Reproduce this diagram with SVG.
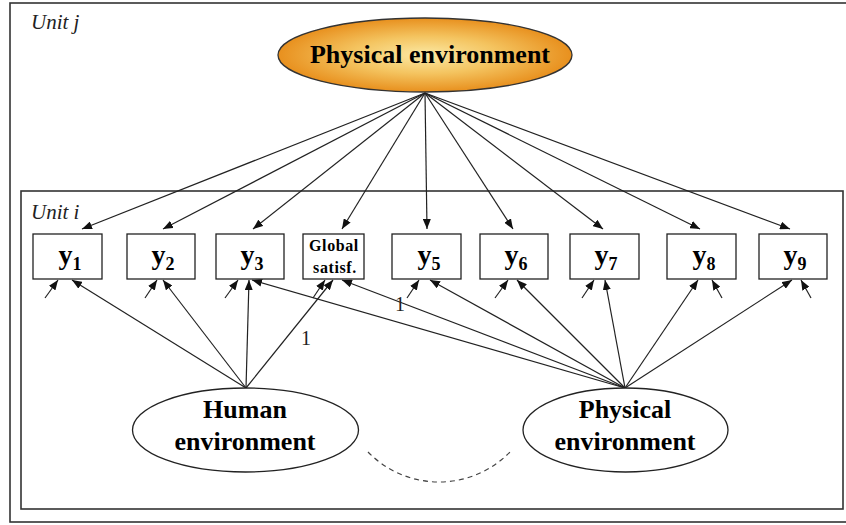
<svg xmlns="http://www.w3.org/2000/svg" width="846" height="525" viewBox="0 0 846 525">
<defs>
<radialGradient id="og" cx="50%" cy="50%" r="50%">
<stop offset="0" stop-color="#fbe9a4"/>
<stop offset="0.5" stop-color="#f4c460"/>
<stop offset="1" stop-color="#e8901e"/>
</radialGradient>
<marker id="ah" viewBox="0 0 10 8" refX="10" refY="4" markerWidth="10" markerHeight="8" markerUnits="userSpaceOnUse" orient="auto">
<path d="M0,0 L10,4 L0,8 z" fill="#111"/>
</marker>
</defs>
<style>
.frame{fill:none;stroke:#333;stroke-width:1.6}
.box{fill:#fff;stroke:#222;stroke-width:1.3}
.ell{fill:#fff;stroke:#222;stroke-width:1.3}
.c line{stroke:#222;stroke-width:1.2;marker-end:url(#ah)}
.lbl{font-family:"Liberation Serif","Times New Roman",serif;font-weight:bold;fill:#000;text-anchor:middle}
.unit{font-family:"Liberation Serif","Times New Roman",serif;font-style:italic;font-size:21px;fill:#222}
.one{font-family:"Liberation Serif","Times New Roman",serif;font-size:20px;fill:#222;text-anchor:middle}
.y{font-size:28px}
.sub{font-size:18px}
</style>
<rect width="846" height="525" fill="#fff"/>
<g id="unit-j">
<rect class="frame" x="10" y="3" width="845" height="519"/>
<text class="unit" x="31" y="29">Unit j</text>
</g>
<g id="unit-i">
<rect class="frame" x="21" y="191" width="822" height="318"/>
<text class="unit" x="31" y="219">Unit i</text>
</g>
<g class="c" id="connectors">
<line x1="425" y1="93" x2="82" y2="229"/>
<line x1="425" y1="93" x2="163" y2="229"/>
<line x1="425" y1="93" x2="253" y2="229"/>
<line x1="425" y1="93" x2="342" y2="229"/>
<line x1="425" y1="93" x2="427" y2="229"/>
<line x1="425" y1="93" x2="513" y2="229"/>
<line x1="425" y1="93" x2="603" y2="229"/>
<line x1="425" y1="93" x2="700" y2="229"/>
<line x1="425" y1="93" x2="790" y2="229"/>
<line x1="246" y1="388" x2="72" y2="280"/>
<line x1="246" y1="388" x2="163" y2="280"/>
<line x1="246" y1="388" x2="249" y2="280"/>
<line x1="246" y1="388" x2="333" y2="280"/>
<line x1="625" y1="388" x2="252" y2="280"/>
<line x1="625" y1="388" x2="342" y2="280"/>
<line x1="625" y1="388" x2="430" y2="280"/>
<line x1="625" y1="388" x2="517" y2="280"/>
<line x1="625" y1="388" x2="605" y2="280"/>
<line x1="625" y1="388" x2="698" y2="280"/>
<line x1="625" y1="388" x2="792" y2="280"/>
<line x1="45" y1="298" x2="58" y2="280"/>
<line x1="145" y1="298" x2="157" y2="280"/>
<line x1="225" y1="298" x2="238" y2="280"/>
<line x1="313" y1="298" x2="325" y2="280"/>
<line x1="407" y1="298" x2="419" y2="280"/>
<line x1="495" y1="298" x2="508" y2="280"/>
<line x1="582" y1="298" x2="594" y2="280"/>
<line x1="722" y1="298" x2="712" y2="280"/>
<line x1="811" y1="298" x2="801" y2="280"/>
<path d="M368,452 A99,99 0 0 0 510,452" fill="none" stroke="#444" stroke-width="1.2" stroke-dasharray="5,4"/>
<text class="one" x="306" y="345">1</text>
<text class="one" x="400" y="311">1</text>
</g>
<g id="physical-j">
<ellipse cx="425" cy="55" rx="147" ry="37" fill="url(#og)" stroke="#333" stroke-width="1.3"/>
<text class="lbl" x="430" y="63" font-size="26">Physical environment</text>
</g>
<g id="y1"><rect class="box" x="33" y="234" width="69" height="45"/><text class="lbl" x="70" y="264"><tspan class="y">y</tspan><tspan class="sub" dy="6">1</tspan></text></g>
<g id="y2"><rect class="box" x="127" y="234" width="68" height="45"/><text class="lbl" x="163" y="264"><tspan class="y">y</tspan><tspan class="sub" dy="6">2</tspan></text></g>
<g id="y3"><rect class="box" x="216" y="234" width="68" height="45"/><text class="lbl" x="252" y="264"><tspan class="y">y</tspan><tspan class="sub" dy="6">3</tspan></text></g>
<g id="global"><rect class="box" x="303" y="234" width="61" height="45"/><text class="lbl" x="334" y="251" font-size="16" letter-spacing="0.6">Global</text><text class="lbl" x="335" y="273" font-size="16" letter-spacing="0.6">satisf.</text></g>
<g id="y5"><rect class="box" x="392" y="234" width="69" height="45"/><text class="lbl" x="429" y="264"><tspan class="y">y</tspan><tspan class="sub" dy="6">5</tspan></text></g>
<g id="y6"><rect class="box" x="480" y="234" width="68" height="45"/><text class="lbl" x="516" y="264"><tspan class="y">y</tspan><tspan class="sub" dy="6">6</tspan></text></g>
<g id="y7"><rect class="box" x="570" y="234" width="69" height="45"/><text class="lbl" x="606" y="264"><tspan class="y">y</tspan><tspan class="sub" dy="6">7</tspan></text></g>
<g id="y8"><rect class="box" x="667" y="234" width="69" height="45"/><text class="lbl" x="704" y="264"><tspan class="y">y</tspan><tspan class="sub" dy="6">8</tspan></text></g>
<g id="y9"><rect class="box" x="759" y="234" width="68" height="45"/><text class="lbl" x="795" y="264"><tspan class="y">y</tspan><tspan class="sub" dy="6">9</tspan></text></g>
<g id="human-i">
<ellipse class="ell" cx="245.5" cy="430" rx="113" ry="42"/>
<text class="lbl" x="245" y="418" font-size="26">Human</text>
<text class="lbl" x="245" y="450" font-size="26">environment</text>
</g>
<g id="physical-i">
<ellipse class="ell" cx="625.5" cy="430" rx="102.5" ry="42"/>
<text class="lbl" x="625" y="418" font-size="26">Physical</text>
<text class="lbl" x="625" y="450" font-size="26">environment</text>
</g>
</svg>
